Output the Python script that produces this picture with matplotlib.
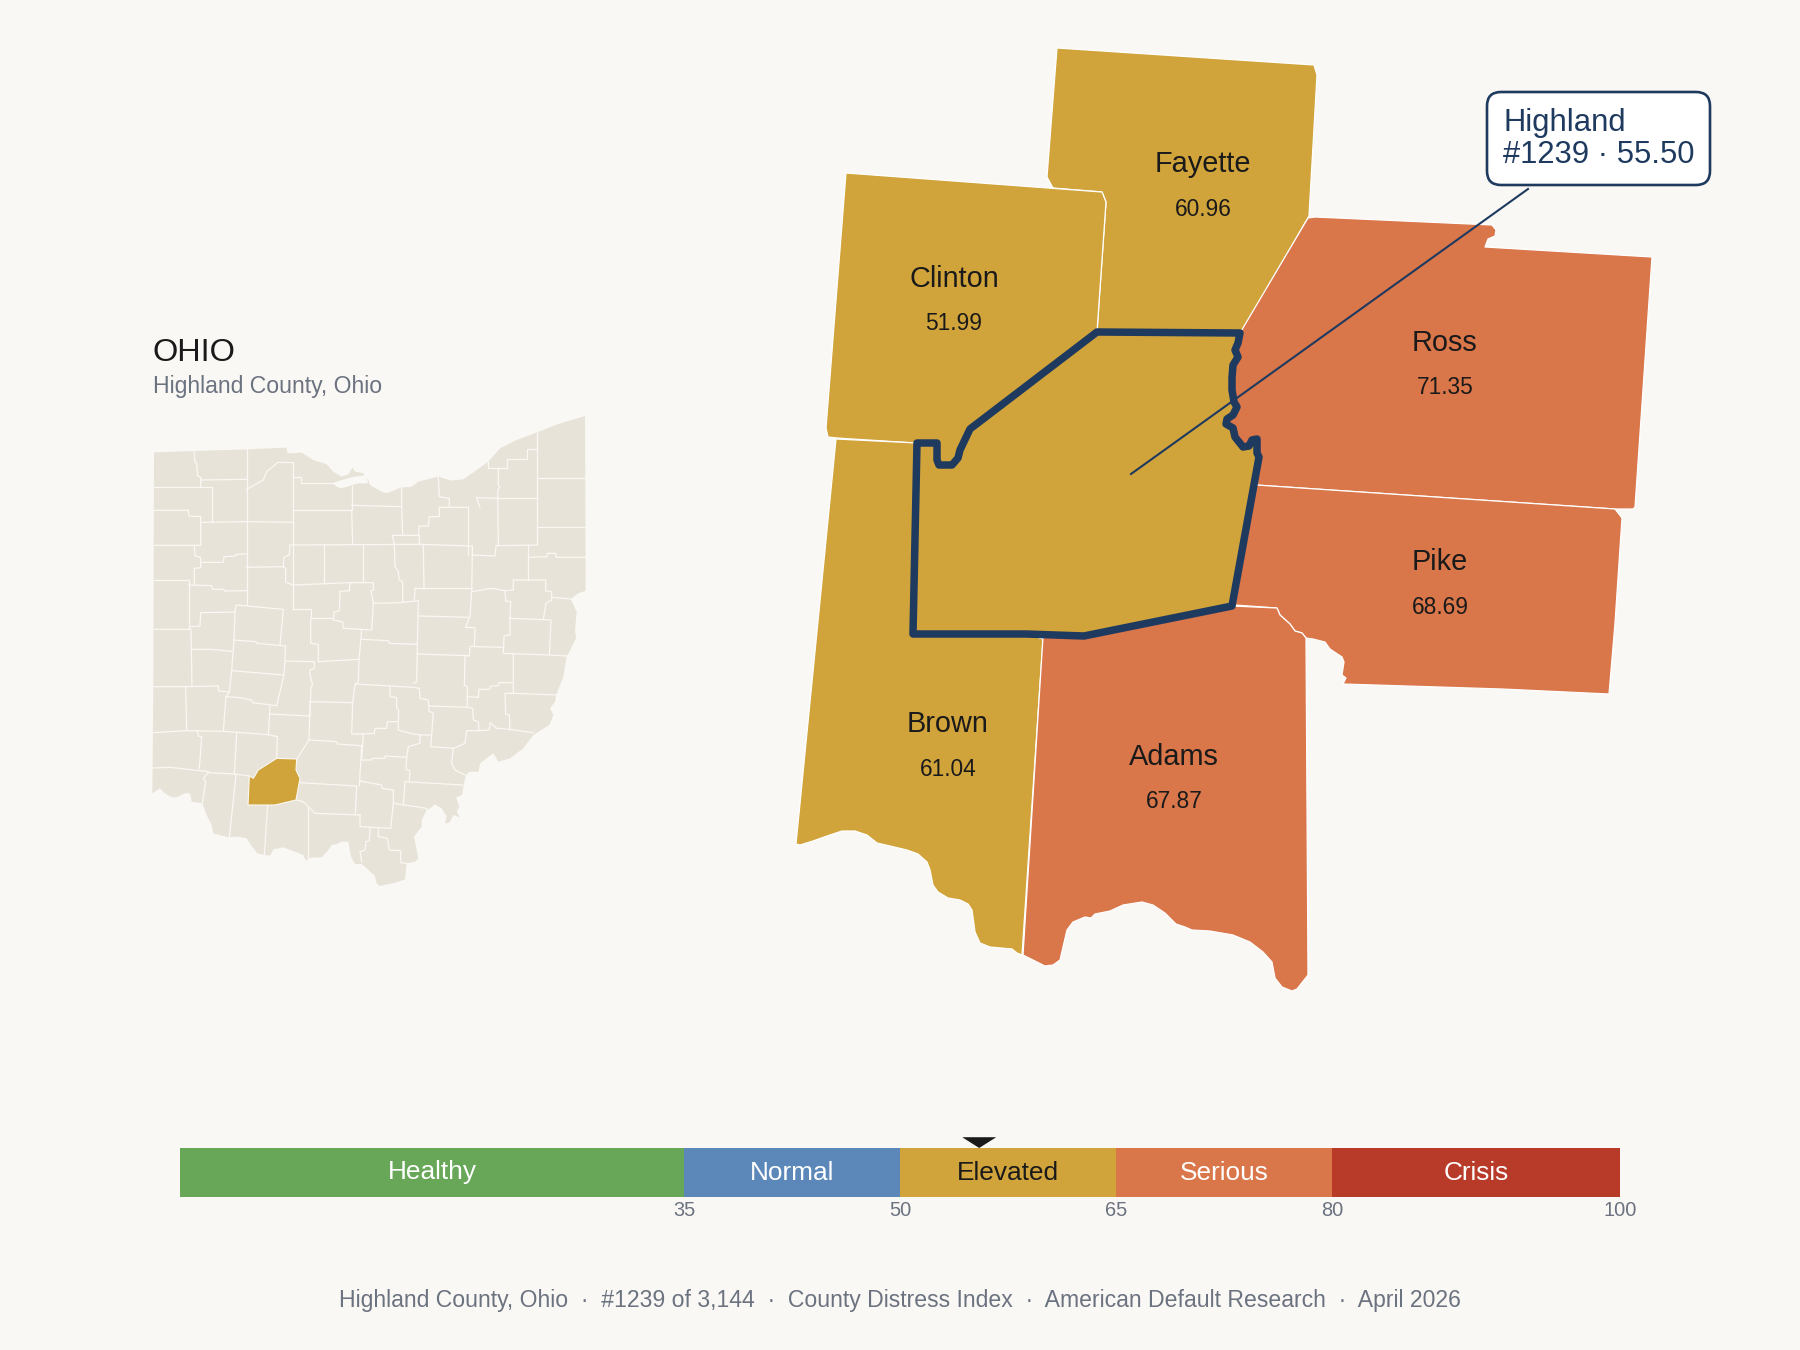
import matplotlib
matplotlib.use('Agg')
import matplotlib.pyplot as plt
from matplotlib.patches import Polygon, FancyBboxPatch

plt.rcParams['font.family'] = ['Liberation Sans', 'DejaVu Sans']

BG = '#FAF8F4'
GOLD = '#D1A43B'
ORANGE = '#D9764A'
NAVY = '#1F3A5F'
DARK = '#1A1A1A'
GREY = '#6B7280'
LAND = '#E8E3D8'

# index bands
band_names = ['Healthy', 'Normal', 'Elevated', 'Serious', 'Crisis']
band_edges = [0, 35, 50, 65, 80, 100]
band_colors = ['#68A758', '#5B88B8', GOLD, ORANGE, '#B83B2A']
band_text = ['white', 'white', DARK, 'white', 'white']
tick_values = [35, 50, 65, 80, 100]
highland_score = 55.50

# neighbours
county_names = ['Fayette', 'Clinton', 'Ross', 'Pike', 'Brown', 'Adams']
county_scores = [60.96, 51.99, 71.35, 68.69, 61.04, 67.87]
label_x = [1203, 954, 1445, 1440, 948, 1174]
label_y = [164, 279, 343, 562, 724, 757]

highland_east = [(1240, 333), (1238, 343), (1235, 350), (1238, 357), (1233, 365), (1232, 378),
                 (1232, 390), (1234, 402), (1237, 407), (1233, 415), (1227, 419), (1226, 424),
                 (1233, 428), (1235, 437), (1243, 447), (1249, 446), (1252, 440), (1257, 439),
                 (1257, 453), (1259, 457)]
highland_rest = [(1232, 606), (1084, 636), (1026, 634), (913, 634), (917, 443), (937, 443),
                 (937, 460), (939, 465), (952, 465), (958, 458), (960, 450), (970, 429),
                 (1097, 332)]
highland = highland_east + highland_rest

fayette = [(1057, 48), (1314, 65), (1317, 75), (1309, 216), (1242, 332), (1097, 332), (1106, 202),
           (1102, 192), (1053, 188), (1047, 177)]
clinton = [(846, 173), (1102, 192), (1106, 202), (1097, 332), (970, 429), (960, 450), (952, 465),
           (937, 465), (937, 443), (915, 443), (837, 438), (828, 437), (826, 428)]
ross = [(1315, 217), (1492, 225), (1496, 230), (1495, 236), (1488, 239), (1485, 247), (1652, 257),
        (1635, 507), (1633, 509), (1615, 509), (1256, 485), (1259, 457)] + highland_east[::-1] + \
       [(1308, 218)]
pike = [(1256, 485), (1615, 509), (1622, 518), (1615, 623), (1609, 694), (1502, 689), (1343, 684),
        (1346, 678), (1342, 675), (1344, 662), (1342, 657), (1330, 649), (1325, 642), (1313, 639),
        (1306, 638), (1302, 633), (1295, 631), (1290, 624), (1280, 615), (1277, 608), (1235, 605)]
brown = [(836, 439), (917, 443), (913, 634), (1026, 634), (1043, 639), (1022, 955), (1017, 953),
         (1012, 949), (990, 947), (980, 943), (975, 932), (972, 910), (968, 904), (960, 900),
         (948, 898), (938, 892), (933, 885), (930, 870), (927, 862), (918, 854), (907, 850),
         (890, 846), (877, 843), (867, 835), (855, 831), (842, 831), (827, 836), (813, 841),
         (800, 845), (796, 844)]
adams = [(1043, 637), (1084, 636), (1232, 606), (1277, 608), (1280, 615), (1290, 624), (1295, 631),
         (1302, 633), (1306, 638), (1308, 975), (1297, 989), (1292, 991), (1282, 987), (1275, 978),
         (1272, 962), (1263, 952), (1250, 942), (1233, 935), (1210, 931), (1192, 930), (1185, 927),
         (1176, 924), (1165, 913), (1153, 905), (1142, 902), (1123, 905), (1110, 911), (1095, 914),
         (1091, 918), (1085, 917), (1073, 922), (1067, 930), (1063, 947), (1060, 960), (1053, 965),
         (1045, 966), (1023, 955)]
county_shapes = [fayette, clinton, ross, pike, brown, adams]

leader_x = [1131, 1528]
leader_y = [474, 189]

ohio_outline = [(72, 157), (192, 153), (350, 148), (470, 143), (472, 160), (515, 158), (550, 180),
                (590, 193), (610, 215), (635, 230), (655, 223), (668, 203), (675, 215), (702, 220),
                (700, 230), (715, 240), (720, 255), (755, 275), (770, 280), (812, 263), (845, 260),
                (865, 245), (925, 230), (965, 242), (1000, 238), (1040, 210), (1075, 185),
                (1110, 145), (1160, 120), (1200, 105), (1285, 72), (1365, 48), (1367, 572),
                (1345, 580), (1322, 597), (1340, 635), (1335, 690), (1338, 715), (1318, 755),
                (1310, 770), (1300, 830), (1280, 880), (1275, 905), (1260, 925), (1270, 945),
                (1258, 975), (1210, 1005), (1180, 1045), (1140, 1075), (1105, 1085), (1090, 1060),
                (1050, 1090), (1045, 1115), (1020, 1115), (1008, 1125), (1002, 1150), (996, 1185),
                (978, 1192), (988, 1220), (980, 1235), (990, 1252), (970, 1245), (958, 1268),
                (945, 1270), (950, 1250), (935, 1225), (915, 1213), (900, 1225), (890, 1230),
                (875, 1260), (875, 1280), (852, 1310), (865, 1375), (855, 1385), (830, 1390),
                (825, 1438), (800, 1447), (750, 1458), (740, 1450), (735, 1428), (710, 1405),
                (695, 1392), (675, 1392), (663, 1370), (655, 1325), (635, 1325), (620, 1332),
                (605, 1335), (595, 1350), (575, 1372), (540, 1373), (528, 1382), (520, 1365),
                (495, 1355), (460, 1342), (430, 1348), (420, 1367), (405, 1365), (382, 1360),
                (365, 1338), (350, 1315), (325, 1310), (295, 1312), (250, 1300), (245, 1275),
                (230, 1245), (217, 1210), (185, 1205), (180, 1180), (165, 1180), (140, 1192),
                (125, 1192), (105, 1180), (90, 1165), (70, 1178), (67, 1180), (70, 860)]
sandusky_bay = [(605, 250), (635, 240), (665, 232), (700, 226), (712, 240), (715, 250), (685, 250),
                (645, 262), (630, 265), (618, 258)]
highland_inset = [(440, 1075), (500, 1077), (498, 1110), (510, 1135), (498, 1200), (435, 1215),
                  (354, 1215), (358, 1128), (370, 1135), (385, 1110)]
county_lines = [
    [(192, 153), (195, 187), (200, 190), (203, 228), (212, 232), (212, 262)],
    [(72, 262), (245, 262), (245, 365)],
    [(212, 240), (350, 238)],
    [(350, 148), (350, 615)],
    [(72, 331), (175, 331), (177, 349), (212, 349), (212, 436), (72, 436)],
    [(193, 436), (195, 468), (212, 472), (212, 503), (193, 505), (193, 555)],
    [(212, 367), (350, 365)],
    [(212, 487), (280, 487), (282, 470), (317, 468), (318, 463), (350, 462)],
    [(72, 540), (176, 540), (176, 688)],
    [(176, 555), (245, 557), (248, 568), (282, 568), (284, 573), (350, 572)],
    [(72, 688), (183, 688), (186, 860)],
    [(183, 680), (210, 678), (212, 638), (315, 636), (318, 615), (460, 628), (450, 735)],
    [(315, 636), (312, 720), (305, 812), (298, 876)],
    [(186, 748), (245, 748), (305, 754)],
    [(312, 720), (378, 725), (380, 730), (467, 738), (462, 825), (440, 917)],
    [(305, 812), (460, 825)],
    [(70, 860), (167, 860), (170, 990)],
    [(167, 860), (265, 858), (266, 873), (298, 876), (288, 890), (280, 992)],
    [(288, 890), (330, 893), (365, 900), (368, 908), (440, 917)],
    [(68, 998), (170, 992), (280, 994), (415, 1004), (442, 1010), (440, 1078)],
    [(420, 917), (415, 1004)],
    [(203, 992), (205, 1008), (215, 1010), (208, 1105)],
    [(320, 1000), (313, 1122)],
    [(67, 1104), (120, 1102), (237, 1115), (220, 1135), (227, 1145), (217, 1210)],
    [(237, 1118), (313, 1122), (358, 1128)],
    [(318, 1125), (298, 1312)],
    [(413, 1215), (403, 1365)],
    [(535, 1220), (535, 1375)],
    [(500, 1200), (520, 1205), (555, 1240), (690, 1245)],
    [(510, 1148), (680, 1158), (676, 1243)],
    [(537, 1020), (620, 1025), (622, 1032), (695, 1037), (688, 1158)],
    [(537, 1020), (500, 1078)],
    [(540, 905), (537, 1020)],
    [(420, 942), (540, 948)],
    [(467, 783), (553, 785), (553, 805), (540, 810), (540, 825), (548, 855), (543, 860), (540, 945)],
    [(490, 188), (490, 628)],
    [(350, 268), (400, 240), (410, 215), (444, 187), (490, 188)],
    [(490, 232), (514, 232), (514, 250), (605, 250)],
    [(490, 331), (665, 331), (665, 258)],
    [(665, 316), (815, 320), (815, 263)],
    [(665, 331), (668, 433)],
    [(815, 320), (818, 405)],
    [(350, 365), (490, 367)],
    [(870, 433), (480, 435), (478, 465), (462, 472), (460, 500), (350, 502)],
    [(460, 500), (467, 505), (467, 547), (490, 555), (660, 548)],
    [(583, 435), (583, 548)],
    [(700, 435), (700, 545)],
    [(660, 548), (730, 548), (730, 570), (723, 572), (730, 610), (725, 690), (640, 685), (638, 666),
     (610, 660), (612, 636), (628, 632), (630, 574), (658, 572), (660, 548)],
    [(490, 628), (542, 628), (542, 655), (610, 655)],
    [(542, 655), (542, 730), (565, 733), (565, 785), (687, 778)],
    [(540, 905), (668, 908)],
    [(695, 690), (687, 778), (685, 845), (675, 855), (668, 908), (665, 1002), (700, 1002)],
    [(695, 718), (775, 722), (778, 730), (862, 733)],
    [(730, 610), (810, 608), (865, 602), (862, 733), (860, 845), (850, 850)],
    [(675, 852), (780, 858), (850, 862), (868, 865), (870, 895), (895, 900), (897, 935), (910, 938),
     (905, 1005), (870, 1005), (840, 1000), (805, 990), (805, 965), (772, 965), (770, 985),
     (735, 985), (733, 1000), (700, 1002)],
    [(780, 858), (780, 890), (800, 893), (800, 925), (806, 930), (805, 965)],
    [(700, 1002), (695, 1080), (725, 1080), (728, 1075), (765, 1075), (765, 1068), (830, 1072),
     (828, 1108), (840, 1112), (838, 1142)],
    [(870, 1005), (870, 1030), (835, 1040), (830, 1072)],
    [(690, 1143), (755, 1155), (757, 1165), (790, 1170), (790, 1210), (782, 1285)],
    [(690, 1245), (690, 1280), (782, 1285)],
    [(790, 1210), (890, 1225), (890, 1235)],
    [(825, 1145), (820, 1215)],
    [(825, 1145), (998, 1155)],
    [(720, 1285), (718, 1322), (708, 1325), (705, 1350), (690, 1355), (695, 1385)],
    [(745, 1285), (745, 1310), (772, 1315), (778, 1350), (812, 1352), (812, 1388), (830, 1390)],
    [(787, 406), (865, 406), (868, 378), (895, 378), (898, 350), (928, 350), (928, 322), (1015, 322)],
    [(787, 406), (793, 433), (795, 500), (805, 515), (808, 540), (818, 545), (818, 605)],
    [(868, 406), (868, 433), (1027, 438)],
    [(880, 433), (882, 562)],
    [(1027, 438), (1027, 465), (1095, 468), (1098, 437), (1222, 435)],
    [(1027, 465), (1025, 572), (1020, 650)],
    [(855, 565), (1025, 565)],
    [(855, 565), (853, 602)],
    [(865, 648), (1018, 652), (1007, 682), (1035, 683), (1033, 738), (1020, 740), (1018, 767),
     (862, 762)],
    [(1018, 767), (1005, 768), (1003, 855), (1012, 860), (1012, 922), (897, 918)],
    [(1012, 890), (1045, 892), (1047, 868), (1080, 868), (1082, 858), (1105, 857), (1107, 848),
     (1150, 848)],
    [(1033, 740), (1120, 742)],
    [(1025, 575), (1085, 565), (1125, 572), (1127, 603), (1142, 605), (1140, 655), (1140, 705),
     (1122, 707), (1120, 760), (1258, 765), (1263, 660), (1140, 655)],
    [(1125, 572), (1150, 570), (1150, 540), (1247, 540), (1247, 573), (1265, 575), (1265, 600),
     (1248, 610), (1243, 640), (1240, 658)],
    [(1265, 592), (1322, 597)],
    [(1258, 765), (1310, 768)],
    [(1150, 760), (1150, 880), (1125, 880), (1127, 942), (1138, 945), (1140, 990)],
    [(1150, 880), (1285, 885)],
    [(1012, 922), (1028, 925), (1030, 960), (1045, 965), (1047, 992), (1010, 992), (1005, 1030),
     (970, 1045), (965, 1090), (975, 1110), (1005, 1125)],
    [(1047, 992), (1078, 990), (1080, 968), (1100, 985), (1138, 988), (1210, 998)],
    [(905, 1040), (970, 1045)],
    [(905, 1005), (902, 1040)],
    [(1195, 435), (1195, 540)],
    [(1195, 472), (1250, 470), (1252, 460), (1277, 460), (1278, 472), (1367, 472)],
    [(1222, 380), (1367, 380)],
    [(1222, 233), (1367, 233)],
    [(1222, 95), (1222, 435)],
    [(1105, 295), (1222, 295)],
    [(1105, 205), (1105, 255), (1110, 262), (1103, 270), (1105, 435)],
    [(1075, 185), (1075, 205), (1132, 205), (1132, 178), (1190, 178), (1190, 148), (1220, 148)],
    [(925, 232), (928, 290), (958, 295), (958, 322)],
    [(1015, 322), (1015, 465)],
    [(1040, 293), (1105, 295)],
    [(1040, 293), (1050, 322)],
]


def band_color(score):
    for i in range(len(band_names)):
        if score < band_edges[i + 1]:
            return band_colors[i]
    return band_colors[-1]


fig = plt.figure(figsize=(18, 13.5), dpi=100, facecolor=BG)

# main map, in picture pixels
ax = fig.add_axes([0, 0, 1, 1])
ax.set_xlim(0, 1800)
ax.set_ylim(1350, 0)
ax.axis('off')

for name, score, shape in zip(county_names, county_scores, county_shapes):
    ax.add_patch(Polygon(shape, closed=True, facecolor=band_color(score), edgecolor='white',
                         linewidth=0.9, joinstyle='round'))
for name, score, x, y in zip(county_names, county_scores, label_x, label_y):
    ax.text(x, y, name, ha='center', va='center', fontsize=20.8, color=DARK)
    ax.text(x, y + 45, '%.2f' % score, ha='center', va='center', fontsize=16.4, color=DARK)

ax.add_patch(Polygon(highland, closed=True, facecolor=band_color(highland_score), edgecolor=NAVY,
                     linewidth=5.4, joinstyle='round', zorder=3))
ax.plot(leader_x, leader_y, color=NAVY, linewidth=1.5, zorder=4)

ax.add_patch(FancyBboxPatch((1487, 92), 223, 93, boxstyle='round,pad=0,rounding_size=14',
                            facecolor='white', edgecolor=NAVY, linewidth=1.9, zorder=5))
ax.text(1503, 123, 'Highland', ha='left', va='center', fontsize=22.3, color=NAVY, zorder=6)
ax.text(1503, 155, '#1239 \u00b7 55.50', ha='left', va='center', fontsize=22.3, color=NAVY, zorder=6)

ax.text(153, 353, 'OHIO', ha='left', va='center', fontsize=23.4, color=DARK)
ax.text(153, 386, 'Highland County, Ohio', ha='left', va='center', fontsize=16.6, color=GREY)
ax.text(900, 1301, 'Highland County, Ohio  \u00b7  #1239 of 3,144  \u00b7  County Distress Index  \u00b7  '
        'American Default Research  \u00b7  April 2026', ha='center', va='center', fontsize=16.53,
        color=GREY)

# locator map, coordinates of the trace
ax_state = fig.add_axes([130 / 1800, 1 - 900 / 1350, 480 / 1800, 500 / 1350])
ax_state.set_xlim(0, 1440)
ax_state.set_ylim(1500, 0)
ax_state.axis('off')
ax_state.add_patch(Polygon(ohio_outline, closed=True, facecolor=LAND, edgecolor='none'))
ax_state.add_patch(Polygon(sandusky_bay, closed=True, facecolor=BG, edgecolor='none'))
for line in county_lines:
    ax_state.plot([p[0] for p in line], [p[1] for p in line], color=BG, linewidth=0.9,
                  solid_joinstyle='round')
ax_state.add_patch(Polygon(highland_inset, closed=True, facecolor=GOLD, edgecolor=BG,
                           linewidth=0.8, zorder=4))

# index scale
ax_bar = fig.add_axes([180 / 1800, 1 - 1197 / 1350, 1440 / 1800, 49 / 1350])
ax_bar.set_xlim(0, 100)
ax_bar.set_ylim(0, 1)
ax_bar.axis('off')
for i in range(len(band_names)):
    left = band_edges[i]
    width = band_edges[i + 1] - left
    ax_bar.bar(left, 1, width=width, align='edge', color=band_colors[i], linewidth=0)
    ax_bar.text(left + width / 2, 0.5, band_names[i], ha='center', va='center', fontsize=18.9,
                color=band_text[i])
for t in tick_values:
    ax_bar.text(t, -0.28, str(t), ha='center', va='center', fontsize=14.4, color=GREY)
ax_bar.add_patch(Polygon([(highland_score - 1.18, 1.22), (highland_score + 1.18, 1.22),
                          (highland_score, 1.0)], closed=True, facecolor=DARK, edgecolor='none',
                         clip_on=False))

fig.savefig('out.png', dpi=100, facecolor=BG)
